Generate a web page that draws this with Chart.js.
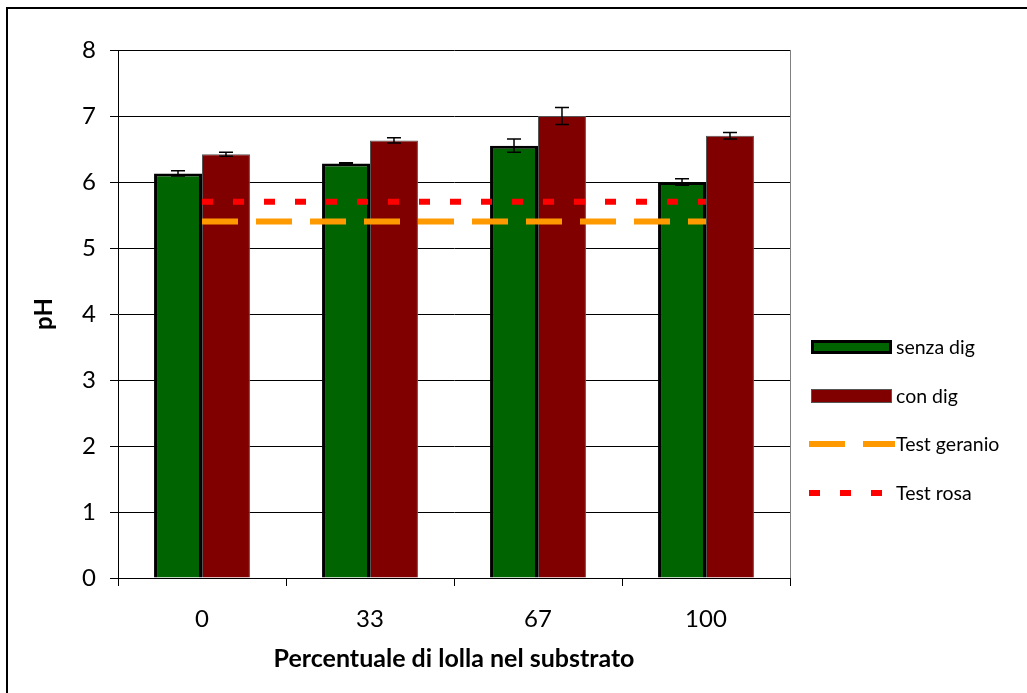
<!DOCTYPE html>
<html>
<head>
<meta charset="utf-8">
<script src="https://cdn.jsdelivr.net/npm/chart.js@4/dist/chart.umd.min.js"></script>
<style>
  html, body { margin: 0; padding: 0; background: #fff; }
  #wrap { width: 1027px; height: 693px; }
</style>
</head>
<body>
<div id="wrap"><canvas id="chart" width="1027" height="693"></canvas></div>
<script>
// data
const categories = ['0', '33', '67', '100'];
const senzaDig = [6.13, 6.28, 6.55, 6.00];
const senzaDigErr = [0.04, 0.01, 0.10, 0.05];
const conDig = [6.42, 6.63, 7.00, 6.70];
const conDigErr = [0.03, 0.04, 0.13, 0.05];
const testGeranio = [5.4, 5.4, 5.4, 5.4];
const testRosa = [5.7, 5.7, 5.7, 5.7];

const FONT = 'Lato, "Open Sans", sans-serif';

/** Draws error bars for the bar datasets that carry an `err` array */
const errorBars = {
  id: 'errorBars',
  afterDatasetsDraw(chart) {
    const ctx = chart.ctx;
    const y = chart.scales.y;
    chart.data.datasets.forEach((ds, i) => {
      if (!ds.err) return;
      const meta = chart.getDatasetMeta(i);
      meta.data.forEach((bar, j) => {
        const top = y.getPixelForValue(ds.data[j] + ds.err[j]);
        const bot = y.getPixelForValue(ds.data[j] - ds.err[j]);
        ctx.save();
        ctx.strokeStyle = '#000';
        ctx.lineWidth = 1.5;
        ctx.beginPath();
        ctx.moveTo(bar.x, top);
        ctx.lineTo(bar.x, bot);
        ctx.moveTo(bar.x - 7, top);
        ctx.lineTo(bar.x + 7, top);
        ctx.moveTo(bar.x - 7, bot);
        ctx.lineTo(bar.x + 7, bot);
        ctx.stroke();
        ctx.restore();
      });
    });
  },
};

/** Outer frame, right plot border and the legend on the right */
const decorations = {
  id: 'decorations',
  afterDraw(chart) {
    const ctx = chart.ctx;
    const area = chart.chartArea;
    ctx.save();
    // right border of the plot area
    ctx.strokeStyle = '#808080';
    ctx.lineWidth = 1;
    ctx.beginPath();
    ctx.moveTo(area.right + 0.5, area.top);
    ctx.lineTo(area.right + 0.5, area.bottom);
    ctx.stroke();
    // outer frame
    ctx.strokeStyle = '#000';
    ctx.lineWidth = 2;
    ctx.strokeRect(7, 8, 1100, 800);

    // legend
    const lx = 811;
    const rows = [347, 396, 444, 493];
    ctx.font = '19.5px ' + FONT;
    ctx.textBaseline = 'middle';
    ctx.fillStyle = '#000';
    chart.data.datasets.forEach((ds, i) => {
      const cy = rows[i];
      if (ds.type === 'line') {
        ctx.strokeStyle = ds.borderColor;
        ctx.lineWidth = ds.borderWidth;
        ctx.setLineDash(ds.borderDash);
        ctx.beginPath();
        ctx.moveTo(lx - 2, cy);
        ctx.lineTo(lx + 84, cy);
        ctx.stroke();
        ctx.setLineDash([]);
      } else {
        ctx.fillStyle = ds.backgroundColor;
        ctx.fillRect(lx, cy - 7, 81, 14);
        ctx.strokeStyle = ds.borderColor;
        ctx.lineWidth = ds.borderWidth;
        const b = ds.borderWidth / 2;
        ctx.strokeRect(lx + b, cy - 7 + b, 81 - 2 * b, 14 - 2 * b);
      }
      ctx.fillStyle = '#000';
      ctx.fillText(ds.label, 896, cy + 1);
    });
    ctx.restore();
  },
};

new Chart(document.getElementById('chart'), {
  data: {
    labels: categories,
    datasets: [
      {
        type: 'bar',
        label: 'senza dig',
        data: senzaDig,
        err: senzaDigErr,
        backgroundColor: '#006400',
        borderColor: '#000',
        borderWidth: 3,
        order: 2,
      },
      {
        type: 'bar',
        label: 'con dig',
        data: conDig,
        err: conDigErr,
        backgroundColor: '#800000',
        borderColor: '#555',
        borderWidth: 1,
        order: 2,
      },
      {
        type: 'line',
        label: 'Test geranio',
        data: testGeranio,
        borderColor: '#ff9900',
        borderWidth: 6,
        borderDash: [36, 18],
        borderCapStyle: 'butt',
        pointRadius: 0,
        order: 1,
      },
      {
        type: 'line',
        label: 'Test rosa',
        data: testRosa,
        borderColor: '#ff0000',
        borderWidth: 6,
        borderDash: [11, 20],
        borderCapStyle: 'butt',
        pointRadius: 0,
        order: 0,
      },
    ],
  },
  options: {
    responsive: false,
    animation: false,
    events: [],
    layout: {
      padding: {left: 24, right: 237, top: 50, bottom: 16},
    },
    datasets: {
      bar: {categoryPercentage: 0.571, barPercentage: 1},
    },
    scales: {
      x: {
        afterFit: (scale) => { scale.height = 99; },
        grid: {
          offset: true,
          drawOnChartArea: false,
          color: '#000',
          tickLength: 8,
        },
        border: {color: '#000', width: 1},
        ticks: {
          color: '#000',
          padding: 19,
          font: {family: FONT, size: 24},
        },
        title: {
          display: true,
          text: 'Percentuale di lolla nel substrato',
          color: '#000',
          padding: {top: 0, bottom: 3},
          font: {family: FONT, size: 25, weight: 'bold'},
        },
      },
      y: {
        min: 0,
        max: 8,
        afterFit: (scale) => { scale.width = 118 - 24; },
        grid: {
          color: '#000',
          tickLength: 8,
        },
        border: {color: '#000', width: 1},
        ticks: {
          stepSize: 1,
          color: '#000',
          padding: 14,
          font: {family: FONT, size: 24},
        },
        title: {
          display: true,
          text: 'pH',
          color: '#000',
          padding: {top: 6, bottom: 0},
          font: {family: FONT, size: 24, weight: 'bold'},
        },
      },
    },
    plugins: {
      legend: {display: false},
      tooltip: {enabled: false},
    },
  },
  plugins: [errorBars, decorations],
});
</script>
</body>
</html>
